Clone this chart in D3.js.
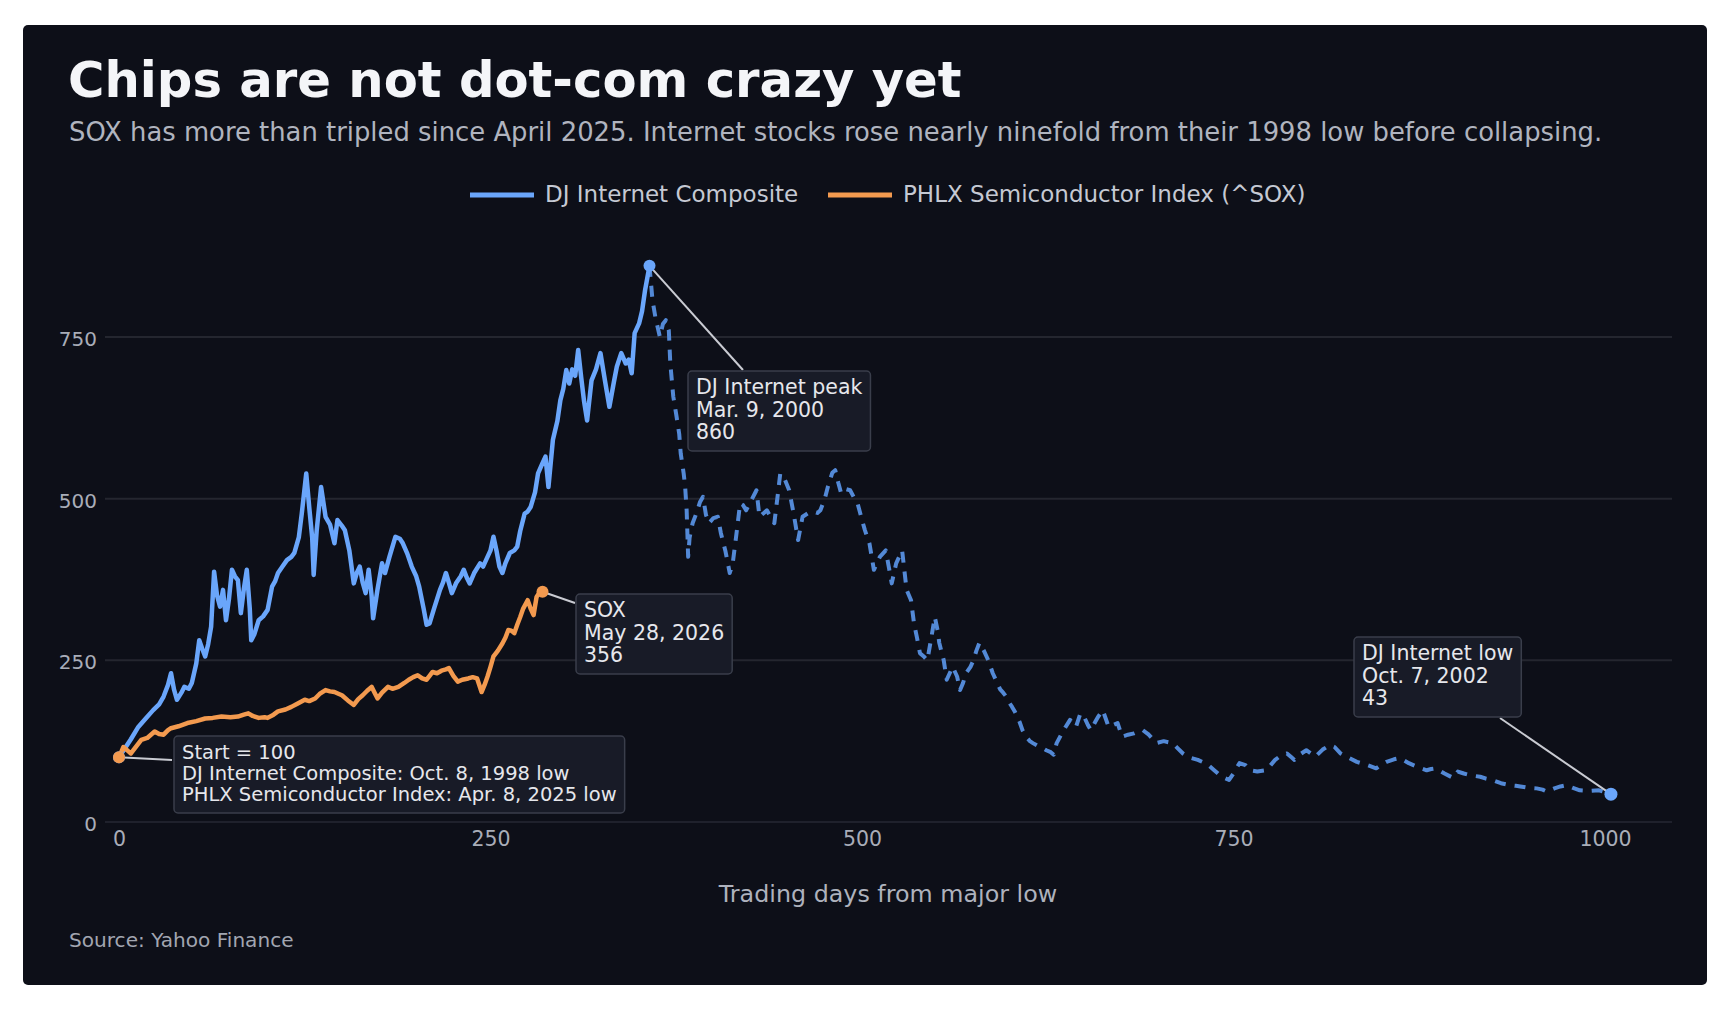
<!DOCTYPE html>
<html>
<head>
<meta charset="utf-8">
<script src="https://cdn.jsdelivr.net/npm/d3@7"></script>
<style>
  body { margin: 0; background: #ffffff; }
  svg { display: block; font-family: "DejaVu Sans", sans-serif; }
</style>
</head>
<body>
<svg id="chart" width="1726" height="1010"></svg>
<script>
// DJ Internet Composite, rebased to 100 at the Oct. 8, 1998 low (trading days from the low)
const djDays = [0, 4, 8, 13, 18, 23, 27, 30, 33, 35, 37, 39, 42, 44, 47, 49, 52, 54, 56, 58, 60, 62, 64, 66, 68, 70, 72, 74, 76, 78, 80, 82, 84, 86, 88, 89, 91, 94, 97, 100, 103, 105, 107, 110, 113, 116, 118, 121, 123, 126, 128, 130, 131, 133, 136, 139, 142, 145, 147, 150, 152, 155, 158, 160, 162, 164, 166, 168, 170, 171, 174, 177, 179, 182, 186, 189, 191, 194, 197, 200, 202, 205, 207, 209, 212, 216, 218, 220, 222, 224, 227, 230, 232, 234, 236, 239, 243, 245, 247, 250, 252, 254, 256, 258, 260, 263, 266, 268, 270, 273, 275, 277, 280, 282, 285, 287, 289, 292, 295, 297, 299, 301, 303, 305, 307, 309, 311, 313, 315, 318, 321, 324, 327, 330, 333, 335, 338, 341, 343, 345, 347, 350, 352, 354, 357,
  359, 361, 364, 366, 368, 370, 371, 373, 375, 377, 378, 380, 381, 382, 383, 384, 386, 389, 391, 393, 395, 397, 400, 403, 405, 408, 411, 413, 415, 418, 420, 422, 425, 429, 431, 434, 436, 439, 441, 443, 445, 448, 451, 454, 457, 460, 464, 467, 470, 472, 475, 477, 480, 482, 484, 486, 489, 492, 495, 497, 500, 502, 505, 508, 510, 512, 514, 516, 518, 520, 523, 525, 527, 530, 533, 535, 537, 539, 542, 544, 547, 549, 551, 552, 555, 557, 559, 561, 564, 566, 568, 570, 573, 575, 577, 579, 582, 585, 588, 590, 593, 595, 597, 599, 601, 603, 606, 608, 611, 613, 615, 618, 621, 624, 627, 629, 631, 634, 637, 640, 642, 644, 647, 650, 652, 654, 657, 659, 662, 664, 666, 669, 672, 675, 679, 683, 686, 689, 693, 698, 703, 709, 712, 716, 720, 726, 730, 733, 737, 742, 747, 750, 754, 758, 761, 766, 772, 775, 778, 782, 786, 789, 791, 795, 799, 802, 805, 810, 815, 818, 822, 827, 833, 840, 846, 849, 853, 858, 862, 865, 868, 874, 880, 883, 886, 892, 898, 901, 905, 910, 916, 920, 924, 930, 936, 940, 943, 948, 954, 958, 961, 966, 970, 974, 978, 983, 990, 996, 1000, 1004];
const djValues = [100, 114, 128, 147, 160, 173, 182, 194, 212, 230, 205, 189, 200, 209, 206, 215, 245, 281, 268, 256, 275, 302, 387, 350, 333, 359, 312, 345, 390, 380, 374, 323, 360, 390, 330, 281, 290, 312, 318, 328, 364, 372, 385, 395, 405, 410, 416, 440, 477, 539, 487, 440, 382, 450, 518, 472, 460, 431, 467, 458, 451, 420, 369, 385, 395, 370, 354, 390, 350, 315, 360, 400, 385, 410, 441, 438, 431, 415, 395, 380, 364, 330, 305, 307, 330, 359, 370, 385, 370, 354, 370, 380, 390, 378, 369, 385, 400, 395, 405, 420, 441, 420, 395, 385, 400, 416, 420, 426, 450, 477, 480, 487, 510, 539, 555, 565, 518, 591, 620, 652, 670, 699, 678, 700, 690, 730, 688, 650, 621, 683, 700, 725, 683, 642, 680, 704, 725, 709, 715, 694, 756, 771, 790, 822, 860,
  807, 780, 750, 770, 776, 760, 709, 658, 630, 600, 570, 539, 518, 482, 410, 440, 462, 480, 495, 503, 475, 462, 470, 472, 447, 420, 385, 400, 436, 493, 490, 482, 495, 513, 472, 478, 482, 470, 462, 500, 539, 530, 513, 477, 436, 472, 478, 480, 478, 482, 500, 518, 540, 544, 525, 508, 515, 513, 500, 493, 467, 451, 431, 390, 400, 410, 415, 420, 395, 369, 400, 410, 420, 359, 343, 307, 285, 261, 255, 250, 290, 317, 295, 277, 250, 220, 230, 240, 225, 204, 215, 230, 240, 250, 265, 277, 265, 250, 230, 220, 205, 200, 194, 185, 178, 170, 155, 142, 130, 125, 122, 118, 115, 111, 108, 104, 122, 135, 147, 158, 152, 147, 168, 160, 150, 142, 155, 163, 173, 160, 147, 150, 153, 132, 135, 137, 140, 142, 135, 122, 125, 122, 115, 106, 100, 96, 92, 88, 80, 70, 65, 75, 91, 88, 80, 78, 80, 88, 96, 103, 106, 100, 96, 105, 111, 106, 101, 112, 119, 116, 106, 100, 93, 88, 83, 88, 93, 97, 99, 95, 91, 85, 80, 82, 83, 75, 68, 78, 75, 72, 70, 67, 65, 60, 57, 56, 55, 53, 52, 50, 47, 52, 55, 57, 53, 49, 48, 49, 46, 43];

// PHLX Semiconductor Index, rebased to 100 at the Apr. 8, 2025 low
const soxDays = [0, 3, 6, 8, 12, 15, 19, 24, 27, 30, 33, 35, 40, 46, 52, 58, 63, 69, 75, 80, 84, 87, 90, 94, 98, 100, 104, 107, 112, 116, 120, 125, 128, 132, 135, 139, 142, 145, 148, 150, 154, 158, 161, 164, 167, 170, 172, 174, 177, 181, 184, 188, 192, 195, 198, 201, 204, 207, 209, 211, 214, 217, 220, 222, 225, 228, 231, 235, 238, 241, 244, 246, 248, 250, 252, 255, 258, 260, 262, 264, 266, 268, 270, 272, 275, 277, 279, 281, 283, 285];
const soxValues = [100, 116, 110, 106, 118, 127, 130, 140, 136, 135, 142, 145, 148, 153, 156, 160, 161, 163, 162, 163, 166, 168, 164, 161, 162, 161, 166, 171, 174, 178, 183, 189, 187, 191, 198, 204, 202, 201, 198, 196, 188, 181, 190, 196, 203, 209, 200, 191, 200, 209, 206, 209, 215, 220, 224, 227, 222, 220, 226, 232, 230, 234, 236, 238, 226, 217, 220, 222, 224, 222, 201, 212, 225, 240, 256, 265, 276, 285, 297, 296, 292, 305, 317, 330, 343, 330, 320, 348, 355, 356];

const seriesNames = ["DJ Internet Composite", "PHLX Semiconductor Index (^SOX)"];
const seriesColors = ["#6aa6fb", "#f39a4f"];
const djDashColor = "#5389d6";

const xTicks = [0, 250, 500, 750, 1000];
const yTicks = [0, 250, 500, 750];

const titleText = "Chips are not dot-com crazy yet";
const subtitleText = "SOX has more than tripled since April 2025. Internet stocks rose nearly ninefold from their 1998 low before collapsing.";
const xAxisTitle = "Trading days from major low";
const sourceText = "Source: Yahoo Finance";

const svg = d3.select("#chart");

// dark panel
svg.append("rect")
  .attr("x", 23).attr("y", 25).attr("width", 1684).attr("height", 960)
  .attr("rx", 5).attr("fill", "#0d0f18");

// scales
const x = d3.scaleLinear().domain([0, 1000]).range([119, 1605]);
const y = d3.scaleLinear().domain([0, 750]).range([822, 337]);
const gridLeft = 105, gridRight = 1672;

// title + subtitle
svg.append("text").attr("x", 68).attr("y", 97)
  .attr("font-size", 49.7).attr("font-weight", "bold").attr("fill", "#f4f5f8")
  .text(titleText);
svg.append("text").attr("x", 69).attr("y", 141)
  .attr("font-size", 25.85).attr("fill", "#b0b4bf")
  .text(subtitleText);

// gridlines
svg.append("g").selectAll("line").data(yTicks).join("line")
  .attr("x1", gridLeft).attr("x2", gridRight)
  .attr("y1", d => y(d)).attr("y2", d => y(d))
  .attr("stroke", d => d === 0 ? "#1f212c" : "#24262f").attr("stroke-width", 2);

// y axis (labels only)
const yAxis = d3.axisLeft(y).tickValues(yTicks).tickSize(0).tickPadding(0);
svg.append("g").attr("transform", "translate(97,2)").call(yAxis)
  .call(g => g.select(".domain").remove())
  .selectAll("text").attr("font-size", 20).attr("fill", "#a9adb8")
  .attr("font-family", "DejaVu Sans");

// x axis (labels only)
const xAxis = d3.axisBottom(x).tickValues(xTicks).tickFormat(d3.format("d")).tickSize(0).tickPadding(0);
svg.append("g").attr("transform", "translate(0,831)").call(xAxis)
  .call(g => g.select(".domain").remove())
  .selectAll("text").attr("font-size", 20.5).attr("fill", "#a9adb8")
  .attr("font-family", "DejaVu Sans");

svg.append("text").attr("x", 888).attr("y", 902).attr("text-anchor", "middle")
  .attr("font-size", 23.8).attr("fill", "#aeb2bd").text(xAxisTitle);

svg.append("text").attr("x", 69).attr("y", 947)
  .attr("font-size", 20.1).attr("fill", "#a2a6b1").text(sourceText);

// series lines
const djPoints = djDays.map((d, i) => [d, djValues[i]]);
const soxPoints = soxDays.map((d, i) => [d, soxValues[i]]);
const peakIdx = d3.maxIndex(djValues);

const line = d3.line().x(d => x(d[0])).y(d => y(d[1]));

// after the peak: dashed
svg.append("path").datum(djPoints.slice(peakIdx))
  .attr("d", line).attr("fill", "none")
  .attr("stroke", djDashColor).attr("stroke-width", 4)
  .attr("stroke-dasharray", "11,9").attr("stroke-linejoin", "round");

// up to the peak: solid
svg.append("path").datum(djPoints.slice(0, peakIdx + 1))
  .attr("d", line).attr("fill", "none")
  .attr("stroke", seriesColors[0]).attr("stroke-width", 4.5)
  .attr("stroke-linejoin", "round");

svg.append("path").datum(soxPoints)
  .attr("d", line).attr("fill", "none")
  .attr("stroke", seriesColors[1]).attr("stroke-width", 4.5)
  .attr("stroke-linejoin", "round");

// legend
const legend = svg.append("g");
const legendItems = [
  {name: seriesNames[0], color: seriesColors[0], x0: 470},
  {name: seriesNames[1], color: seriesColors[1], x0: 828}
];
legendItems.forEach(it => {
  legend.append("line").attr("x1", it.x0).attr("x2", it.x0 + 64)
    .attr("y1", 195).attr("y2", 195)
    .attr("stroke", it.color).attr("stroke-width", 5);
  legend.append("text").attr("x", it.x0 + 75).attr("y", 202)
    .attr("font-size", 23).attr("fill", "#c5c9d3").text(it.name);
});

// annotations
const lowIdx = djValues.length - 1;
const soxEnd = soxPoints[soxPoints.length - 1];
const annotations = [
  {pt: djPoints[0], lines: ["Start = 100", "DJ Internet Composite: Oct. 8, 1998 low", "PHLX Semiconductor Index: Apr. 8, 2025 low"],
   bx: 174, by: 736, fs: 19.5, lh: 21, tip: [172, 760]},
  {pt: soxEnd, lines: ["SOX", "May 28, 2026", "356"], bx: 576, by: 594, fs: 20.5, lh: 22.5, tip: [575, 603]},
  {pt: djPoints[peakIdx], lines: ["DJ Internet peak", "Mar. 9, 2000", "860"], bx: 688, by: 371, fs: 20.5, lh: 22.5, tip: [743, 370]},
  {pt: djPoints[lowIdx], lines: ["DJ Internet low", "Oct. 7, 2002", "43"], bx: 1354, by: 637, fs: 20.5, lh: 22.5, tip: [1500, 718]}
];

const annG = svg.append("g");
annotations.forEach(a => {
  annG.append("line")
    .attr("x1", x(a.pt[0])).attr("y1", y(a.pt[1]))
    .attr("x2", a.tip[0]).attr("y2", a.tip[1])
    .attr("stroke", "#c9cbd2").attr("stroke-width", 2);
  const box = annG.append("rect");
  const t = annG.append("text").attr("font-size", a.fs).attr("fill", "#e6e7ec");
  a.lines.forEach((l, i) => {
    t.append("tspan").attr("x", a.bx + 8).attr("y", a.by + 23 + i * a.lh).text(l);
  });
  const w = t.node().getBBox().width;
  box.attr("x", a.bx).attr("y", a.by).attr("width", w + 16)
    .attr("height", 23 + (a.lines.length - 1) * a.lh + 12)
    .attr("rx", 4).attr("fill", "#181b27").attr("stroke", "#3a3e4b").attr("stroke-width", 1.5);
});

// markers
const markers = [
  {pt: djPoints[0], color: seriesColors[0], r: 6},
  {pt: soxPoints[0], color: seriesColors[1], r: 6},
  {pt: soxEnd, color: seriesColors[1], r: 6},
  {pt: djPoints[peakIdx], color: seriesColors[0], r: 6},
  {pt: djPoints[lowIdx], color: seriesColors[0], r: 6.5}
];
svg.append("g").selectAll("circle").data(markers).join("circle")
  .attr("cx", d => x(d.pt[0])).attr("cy", d => y(d.pt[1]))
  .attr("r", d => d.r).attr("fill", d => d.color);
</script>
</body>
</html>
